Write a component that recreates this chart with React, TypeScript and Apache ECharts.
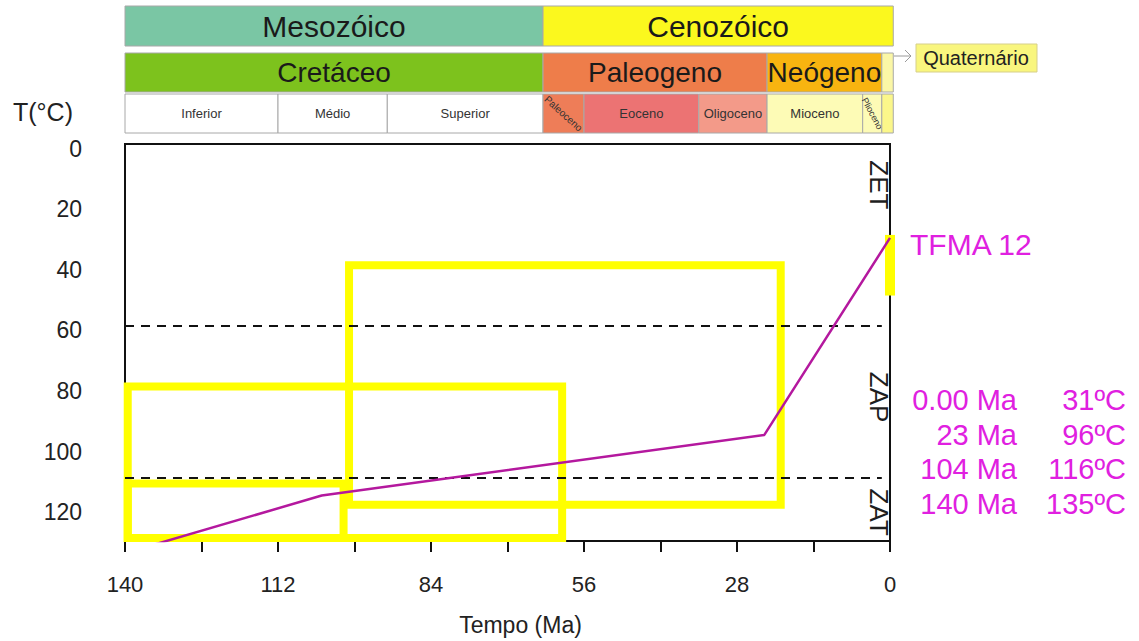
import { useEffect, useRef } from "react";
import * as echarts from "echarts";

const FONT = "'Liberation Sans', Arial, Helvetica, sans-serif";

// Modelled thermal history of the sample (age in Ma, temperature in °C)
const sampleName = "TFMA 12";
const pathAges = [0, 23, 104, 140];
const pathTemps = [31, 96, 116, 135];

// Time–temperature constraint boxes
const boxOldAges = [139.5, 139.5, 99];
const boxYoungAges = [60, 100, 20];
const boxTopTemps = [80, 112, 40];
const boxBottomTemps = [130, 130, 119];

// Present-day temperature range
const presentAge = 0;
const presentTemps = [30, 50];

// Annealing zone limits and names
const zoneBoundaries = [60, 110];
const zoneNames = ["ZET", "ZAP", "ZAT"];
const zoneLabelTemps = [13.5, 83.5, 121.5];
const zoneLabelAge = 2;

// Geological time scale
const eraNames = ["Mesozóico", "Cenozóico"];
const eraBounds = [140, 63.5, -0.6];
const periodNames = ["Cretáceo", "Paleogeno", "Neógeno", ""];
const periodBounds = [140, 63.5, 22.5, 1.5, -0.6];
const epochNames = ["Inferior", "Médio", "Superior", "Paleoceno", "Eoceno", "Oligoceno", "Mioceno", "Plioceno", ""];
const epochBounds = [140, 112, 92, 63.5, 56, 35, 22.5, 5, 1.5, -0.6];
const quaternaryName = "Quaternário";

// Axis settings
const ageMin = 0;
const ageMax = 140;
const ageTickStep = 14;
const ageLabelStep = 28;
const tempMin = 0;
const tempMax = 131;
const tempTickStep = 20;

// Styles
const eraColors = ["#7ac6a4", "#fbf81e"];
const periodColors = ["#7dc21d", "#ee7d4a", "#f8b410", "#fbf7a6"];
const epochColors = ["#ffffff", "#ffffff", "#ffffff", "#ee7d58", "#ec7373", "#f39a89", "#fdfbb6", "#fdfbb6", "#fbf78a"];
const epochRotations = [0, 0, 0, -42, 0, 0, 0, -62, 0];
const rowLayout = [
  { top: 0, height: 40, font: 30 },
  { top: 47, height: 39, font: 28 },
  { top: 88, height: 39, font: 13 },
];
const PATH_COLOR = "#b4189e";
const LABEL_COLOR = "#e020e0";
const BOX_COLOR = "#ffff00";

type Cell = { row: number; name: string; old: number; young: number; color: string; rot: number };

const cells: Cell[] = [
  ...eraNames.map((n, i) => ({ row: 0, name: n, old: eraBounds[i], young: eraBounds[i + 1], color: eraColors[i], rot: 0 })),
  ...periodNames.map((n, i) => ({ row: 1, name: n, old: periodBounds[i], young: periodBounds[i + 1], color: periodColors[i], rot: 0 })),
  ...epochNames.map((n, i) => ({ row: 2, name: n, old: epochBounds[i], young: epochBounds[i + 1], color: epochColors[i], rot: epochRotations[i] })),
];

const fmtAge = (a: number, i: number) => (i === 0 ? a.toFixed(2) : String(a));

const textStyle = (text: string, fontSize: number, fill: string, align: string) => ({
  text,
  fontSize,
  fontFamily: FONT,
  fill,
  align,
  verticalAlign: "middle",
  textAlign: align,
  textVerticalAlign: "middle",
});

function buildOption(): any {
  const rowY = [400, 435, 469, 504];

  const graphic: any[] = [
    { type: "text", x: 13, y: 112, style: textStyle("T(°C)", 25, "#222", "left") },
    { type: "text", x: 910, y: 244, style: textStyle(sampleName, 30, LABEL_COLOR, "left") },
    ...pathAges.flatMap((a, i) => [
      { type: "text", x: 1017, y: rowY[i], style: textStyle(`${fmtAge(a, i)} Ma`, 29, LABEL_COLOR, "right") },
      { type: "text", x: 1126, y: rowY[i], style: textStyle(`${pathTemps[i]}ºC`, 29, LABEL_COLOR, "right") },
    ]),
    // Quaternary call-out
    {
      type: "rect",
      shape: { x: 916, y: 44, width: 121, height: 28 },
      style: { fill: "#f9f67e", stroke: "#d6cf8a", lineWidth: 1 },
    },
    { type: "text", x: 976, y: 58, style: textStyle(quaternaryName, 20, "#222", "center") },
    {
      type: "polyline",
      shape: { points: [[894, 56], [911, 56]] },
      style: { stroke: "#9a9a9a", lineWidth: 1, fill: "none" },
    },
    {
      type: "polyline",
      shape: { points: [[905, 50], [911, 56], [905, 62]] },
      style: { stroke: "#9a9a9a", lineWidth: 1, fill: "none" },
    },
  ];

  return {
    animation: false,
    backgroundColor: "#ffffff",
    textStyle: { fontFamily: FONT },
    grid: [
      {
        left: 125,
        right: 249,
        top: 144,
        bottom: 100,
        outerBoundsMode: "none",
        containLabel: false,
        show: true,
        borderColor: "#111",
        borderWidth: 2,
        backgroundColor: "transparent",
      },
      { left: 125, right: 249, top: 6, height: 127, outerBoundsMode: "none", containLabel: false },
    ],
    xAxis: [
      {
        gridIndex: 0,
        type: "value",
        position: "bottom",
        min: ageMin,
        max: ageMax,
        interval: ageTickStep,
        inverse: true,
        axisLine: { show: true, onZero: false, lineStyle: { color: "#111", width: 2 } },
        axisTick: { show: true, inside: false, length: 11, lineStyle: { color: "#111", width: 2 } },
        axisLabel: {
          fontSize: 22,
          color: "#222",
          margin: 32,
          fontFamily: FONT,
          formatter: (v: number) => (v % ageLabelStep === 0 ? String(v) : ""),
        },
        splitLine: { show: false },
        name: "Tempo (Ma)",
        nameLocation: "middle",
        nameGap: 72,
        nameTextStyle: { fontSize: 23, color: "#222", fontFamily: FONT, padding: [0, 0, 0, 26] },
      },
      { gridIndex: 1, type: "value", min: ageMin, max: ageMax, inverse: true, show: false },
    ],
    yAxis: [
      {
        gridIndex: 0,
        type: "value",
        position: "left",
        min: tempMin,
        max: tempMax,
        minInterval: tempTickStep,
        maxInterval: tempTickStep,
        inverse: true,
        axisLine: { show: true, onZero: false, lineStyle: { color: "#111", width: 2 } },
        axisTick: { show: false },
        axisLabel: {
          fontSize: 23,
          color: "#222",
          margin: 43,
          fontFamily: FONT,
          showMaxLabel: false,
          verticalAlign: "top",
          lineHeight: 9,
          formatter: (v: number) => (v % tempTickStep === 0 ? String(v) : ""),
        },
        splitLine: { show: false },
      },
      { gridIndex: 1, type: "value", min: 0, max: 1, show: false },
    ],
    series: [
      {
        type: "custom",
        name: "escala",
        xAxisIndex: 1,
        yAxisIndex: 1,
        silent: true,
        z: 1,
        data: cells.map((c) => [c.old, 0.5]),
        renderItem: (params: any, api: any) => {
          const c = cells[params.dataIndex];
          const cs = params.coordSys;
          const lay = rowLayout[c.row];
          const x0 = api.coord([c.old, 0])[0];
          const x1 = api.coord([c.young, 0])[0];
          const top = cs.y + lay.top;
          const children: any[] = [
            {
              type: "rect",
              shape: { x: x0, y: top, width: x1 - x0, height: lay.height },
              style: { fill: c.color, stroke: "#a8a8a8", lineWidth: 1 },
            },
          ];
          if (c.name) {
            const rotated = c.rot !== 0;
            children.push({
              type: "text",
              x: (x0 + x1) / 2,
              y: top + lay.height / 2,
              rotation: (c.rot * Math.PI) / 180,
              style: {
                ...textStyle(c.name, rotated ? (c.rot < -50 ? 9 : 10) : lay.font, c.row === 2 ? "#333" : "#1a1a1a", "center"),
                x: 0,
                y: 0,
              },
            });
          }
          return { type: "group", children };
        },
      },
      {
        type: "custom",
        name: "caixas",
        xAxisIndex: 0,
        yAxisIndex: 0,
        silent: true,
        z: 2,
        data: boxOldAges.map((a, i) => [a, boxTopTemps[i], boxYoungAges[i], boxBottomTemps[i]]),
        renderItem: (params: any, api: any) => {
          const p0 = api.coord([api.value(0), api.value(1)]);
          const p1 = api.coord([api.value(2), api.value(3)]);
          return {
            type: "rect",
            shape: {
              x: Math.min(p0[0], p1[0]),
              y: Math.min(p0[1], p1[1]),
              width: Math.abs(p1[0] - p0[0]),
              height: Math.abs(p1[1] - p0[1]),
            },
            style: { fill: "none", stroke: BOX_COLOR, lineWidth: 8, lineJoin: "miter" },
          };
        },
      },
      {
        type: "line",
        name: "atual",
        xAxisIndex: 0,
        yAxisIndex: 0,
        silent: true,
        clip: false,
        z: 3,
        showSymbol: false,
        symbol: "none",
        data: presentTemps.map((t) => [presentAge, t]),
        lineStyle: { color: BOX_COLOR, width: 10, cap: "butt" },
      },
      {
        type: "line",
        name: sampleName,
        xAxisIndex: 0,
        yAxisIndex: 0,
        silent: true,
        clip: true,
        z: 5,
        showSymbol: false,
        symbol: "none",
        data: pathAges.map((a, i) => [a, pathTemps[i]]),
        lineStyle: { color: PATH_COLOR, width: 2.5 },
        markLine: {
          silent: true,
          symbol: ["none", "none"],
          label: { show: false },
          lineStyle: { color: "#111", width: 2, type: [9, 7] },
          data: zoneBoundaries.map((t) => [{ coord: [ageMax, t] }, { coord: [1.5, t] }]),
        },
      },
      {
        type: "custom",
        name: "zonas",
        xAxisIndex: 0,
        yAxisIndex: 0,
        silent: true,
        z: 6,
        data: zoneNames.map((n, i) => [zoneLabelAge, zoneLabelTemps[i]]),
        renderItem: (params: any, api: any) => {
          const p = api.coord([api.value(0), api.value(1)]);
          return {
            type: "text",
            x: p[0],
            y: p[1],
            rotation: -Math.PI / 2,
            style: { ...textStyle(zoneNames[params.dataIndex], 26, "#1e1e1e", "center"), x: 0, y: 0 },
          };
        },
      },
    ],
    graphic,
  };
}

export default function App() {
  const ref = useRef<HTMLDivElement>(null);

  useEffect(() => {
    if (!ref.current) return;
    const chart = echarts.init(ref.current, undefined, { renderer: "svg" });
    chart.setOption(buildOption());
    return () => {
      chart.dispose();
    };
  }, []);

  return (
    <div
      ref={ref}
      style={{ position: "fixed", left: 0, top: 0, width: 1139, height: 641, background: "#fff" }}
    />
  );
}
